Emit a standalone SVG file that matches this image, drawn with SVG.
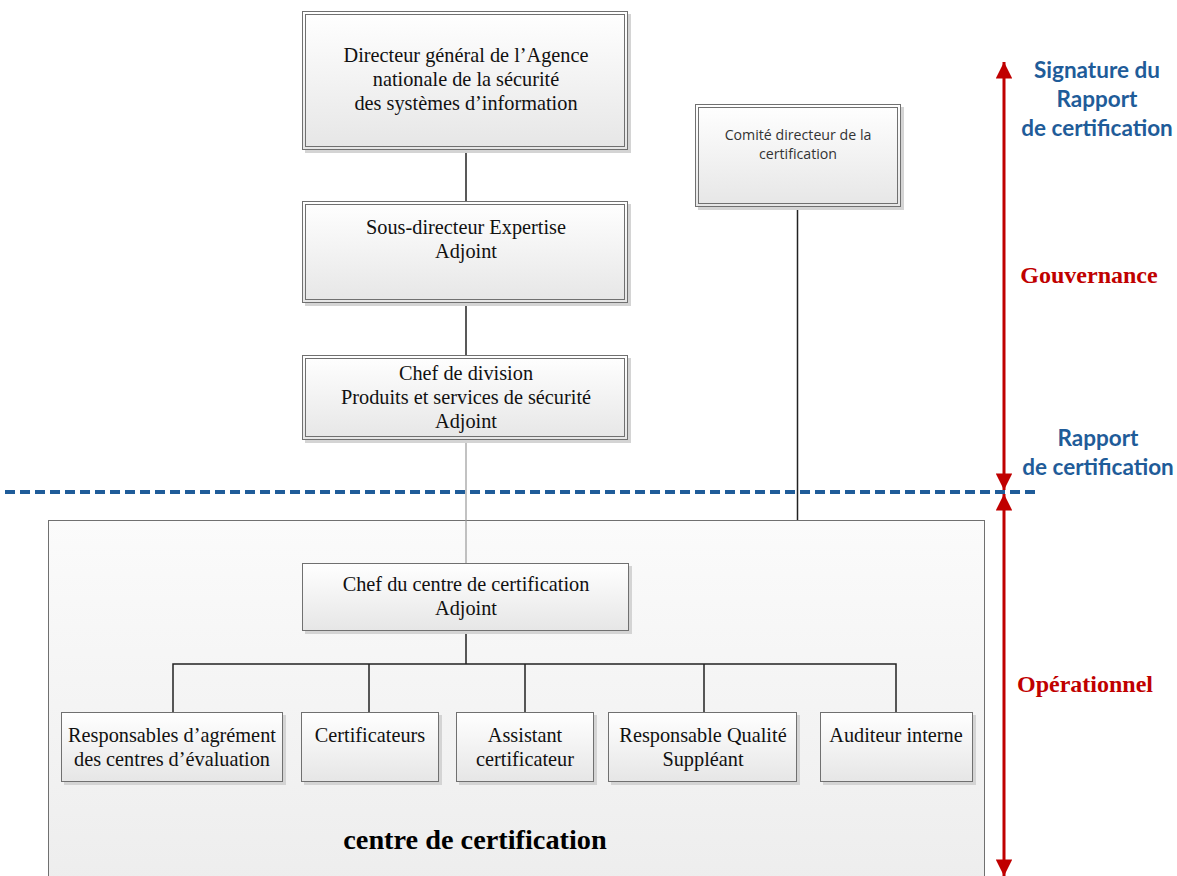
<svg xmlns="http://www.w3.org/2000/svg" width="1177" height="876" viewBox="0 0 1177 876">
<defs>
<linearGradient id="g" x1="0" y1="0" x2="0" y2="1"><stop offset="0" stop-color="#ffffff"/><stop offset="1" stop-color="#e6e6e6"/></linearGradient>
<linearGradient id="gc" x1="0" y1="0" x2="0" y2="1"><stop offset="0" stop-color="#fbfbfb"/><stop offset="1" stop-color="#ededed"/></linearGradient>
<marker id="ar" viewBox="0 0 10 10" refX="10" refY="5" markerWidth="6.5" markerHeight="5.5" orient="auto-start-reverse" markerUnits="strokeWidth"><path d="M0,0 L10,5 L0,10 z" fill="#c00000"/></marker>
</defs>
<style>
.box{fill:url(#g);stroke:#707070;stroke-width:1}
.in{fill:none;stroke:#707070;stroke-width:1}
.sh{fill:#d4d4d4}
.t{font-family:"Liberation Serif",serif;font-size:20.3px;fill:#111;text-anchor:middle}
.s{font-family:"Open Sans","Noto Sans",sans-serif;font-size:14.2px;fill:#333;text-anchor:middle}
.c{stroke:#222;stroke-width:1.5;fill:none}
.blue{font-family:Lato,"Open Sans",sans-serif;font-weight:bold;font-size:22.5px;fill:#1f5c99;text-anchor:middle}
.red{font-family:"Liberation Serif",serif;font-weight:bold;font-size:24px;fill:#c00000;text-anchor:middle}
</style>
<rect width="1177" height="876" fill="#fff"/>
<g id="centre">
<rect x="48.5" y="520.5" width="936" height="370" fill="url(#gc)" stroke="#707070"/>
<text x="475" y="849" font-family="Liberation Serif,serif" font-weight="bold" font-size="28.3" fill="#000" text-anchor="middle">centre de certification</text>
</g>
<g id="connectors">
<line class="c" x1="466" y1="150" x2="466" y2="201"/>
<line class="c" x1="466" y1="303" x2="466" y2="355"/>
<line x1="466" y1="440" x2="466" y2="563" stroke="#999" stroke-width="1.2"/>
<line class="c" x1="797.5" y1="207" x2="797.5" y2="520"/>
<line class="c" x1="466" y1="630" x2="466" y2="664"/>
<path class="c" d="M173,712 V664 H896 V712 M369,664 V712 M525,664 V712 M704,664 V712"/>
</g>
<g id="n1">
<rect class="sh" x="305" y="14" width="326" height="139"/>
<rect class="box" x="302.5" y="11.5" width="325" height="138"/>
<rect class="in" x="305.5" y="14.5" width="319" height="132"/>
<text class="t" x="466" y="62">Directeur général de l’Agence</text>
<text class="t" x="466" y="86">nationale de la sécurité</text>
<text class="t" x="466" y="110">des systèmes d’information</text>
</g>
<g id="n2">
<rect class="sh" x="305" y="204" width="326" height="102"/>
<rect class="box" x="302.5" y="201.5" width="325" height="101"/>
<rect class="in" x="305.5" y="204.5" width="319" height="95"/>
<text class="t" x="466" y="234">Sous-directeur Expertise</text>
<text class="t" x="466" y="258">Adjoint</text>
</g>
<g id="n3">
<rect class="sh" x="305" y="358" width="326" height="85"/>
<rect class="box" x="302.5" y="355.5" width="325" height="84"/>
<rect class="in" x="305.5" y="358.5" width="319" height="78"/>
<text class="t" x="466" y="380">Chef de division</text>
<text class="t" x="466" y="404">Produits et services de sécurité</text>
<text class="t" x="466" y="428">Adjoint</text>
</g>
<g id="n4">
<rect class="sh" x="698" y="107" width="206" height="103"/>
<rect class="box" x="695.5" y="104.5" width="205" height="102"/>
<rect class="in" x="698.5" y="107.5" width="199" height="96"/>
<text class="s" x="798" y="140">Comité directeur de la</text>
<text class="s" x="798" y="159">certification</text>
</g>
<g id="n5">
<rect class="sh" x="305" y="566" width="327" height="68"/>
<rect class="box" x="302.5" y="563.5" width="326" height="67"/>
<text class="t" x="466" y="591">Chef du centre de certification</text>
<text class="t" x="466" y="615">Adjoint</text>
</g>
<g id="b1">
<rect class="sh" x="64" y="715" width="222" height="70"/>
<rect class="box" x="61.5" y="712.5" width="221" height="69"/>
<text class="t" x="172" y="742">Responsables d’agrément</text>
<text class="t" x="172" y="766">des centres d’évaluation</text>
</g>
<g id="b2">
<rect class="sh" x="304" y="715" width="138" height="70"/>
<rect class="box" x="301.5" y="712.5" width="137" height="69"/>
<text class="t" x="370" y="742">Certificateurs</text>
</g>
<g id="b3">
<rect class="sh" x="459" y="715" width="138" height="70"/>
<rect class="box" x="456.5" y="712.5" width="137" height="69"/>
<text class="t" x="525" y="742">Assistant</text>
<text class="t" x="525" y="766">certificateur</text>
</g>
<g id="b4">
<rect class="sh" x="611" y="715" width="189" height="70"/>
<rect class="box" x="608.5" y="712.5" width="188" height="69"/>
<text class="t" x="703" y="742">Responsable Qualité</text>
<text class="t" x="703" y="766">Suppléant</text>
</g>
<g id="b5">
<rect class="sh" x="823" y="715" width="153" height="70"/>
<rect class="box" x="820.5" y="712.5" width="152" height="69"/>
<text class="t" x="896" y="742">Auditeur interne</text>
</g>
<g id="legend">
<line x1="5" y1="492" x2="1040" y2="492" stroke="#1f5c99" stroke-width="4" stroke-dasharray="10,5"/>
<line x1="1004" y1="62" x2="1004" y2="490" stroke="#c00000" stroke-width="3" marker-start="url(#ar)" marker-end="url(#ar)"/>
<line x1="1004" y1="494" x2="1004" y2="876" stroke="#c00000" stroke-width="3" marker-start="url(#ar)" marker-end="url(#ar)"/>
<text class="blue" x="1097" y="78">Signature du</text>
<text class="blue" x="1097" y="107">Rapport</text>
<text class="blue" x="1097" y="136">de certification</text>
<text class="red" x="1089" y="283">Gouvernance</text>
<text class="blue" x="1098" y="446">Rapport</text>
<text class="blue" x="1098" y="475">de certification</text>
<text class="red" x="1085" y="692">Opérationnel</text>
</g>
</svg>
